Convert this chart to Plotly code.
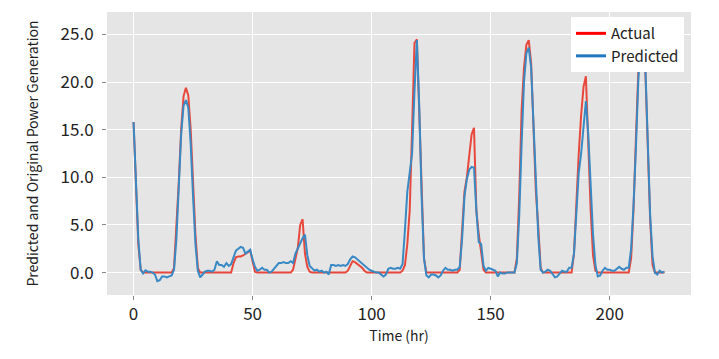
import plotly.graph_objects as go

hours = list(range(224))

actual = [
    15.8, 9.0, 3.0, 0.3, 0, 0, 0, 0, 0, 0,            # 0-9
    0, 0, 0, 0, 0, 0, 0, 0.5, 4.5, 9.5,               # 10-19
    15.0, 18.5, 19.4, 18.6, 15.0, 9.5, 4.0, 0.5, 0, 0,  # 20-29
    0, 0, 0, 0, 0, 0, 0, 0, 0, 0,                     # 30-39
    0, 0, 1.0, 1.6, 1.7, 1.7, 1.8, 2.0, 2.2, 2.3,     # 40-49
    1.2, 0.1, 0, 0, 0, 0, 0, 0, 0, 0,                 # 50-59
    0, 0, 0, 0, 0, 0, 0, 0.3, 1.3, 2.6,               # 60-69
    5.0, 5.6, 2.0, 0.6, 0.1, 0, 0, 0, 0, 0,           # 70-79
    0, 0, 0, 0, 0, 0, 0, 0, 0, 0,                     # 80-89
    0.2, 0.8, 1.2, 1.1, 0.9, 0.7, 0.5, 0.2, 0, 0,     # 90-99
    0, 0, 0, 0, 0, 0, 0, 0, 0, 0,                     # 100-109
    0, 0, 0, 0.2, 0.8, 3.0, 6.5, 15.0, 24.1, 24.5,    # 110-119
    17.0, 8.0, 1.5, 0, 0, 0, 0, 0, 0, 0,              # 120-129
    0, 0, 0, 0, 0, 0, 0, 0.3, 4.0, 8.5,               # 130-139
    10.0, 12.5, 14.5, 15.2, 6.5, 4.0, 2.0, 0.3, 0, 0,  # 140-149
    0, 0, 0, 0, 0, 0, 0, 0, 0, 0,                     # 150-159
    0, 1.5, 8.0, 17.0, 21.5, 23.9, 24.4, 22.0, 16.0, 8.5,  # 160-169
    4.8, 0.5, 0, 0, 0, 0, 0, 0, 0, 0,                 # 170-179
    0, 0, 0, 0, 0, 2.0, 7.5, 12.5, 16.5, 19.5,        # 180-189
    20.6, 13.5, 6.6, 1.8, 0.2, 0, 0, 0, 0, 0,         # 190-199
    0, 0, 0, 0, 0, 0, 0, 0, 0, 1.5,                   # 200-209
    6.6, 14.0, 21.0, 25.5, 25.9, 21.0, 13.5, 5.5, 0.8, 0,  # 210-219
    0, 0, 0, 0,                                       # 220-223
]

predicted = [
    15.8, 9.5, 3.5, 0.3, -0.1, 0.25, 0.1, 0.1, 0.0, -0.2,     # 0-9
    -0.9, -0.8, -0.4, -0.4, -0.5, -0.4, -0.3, 0.3, 3.5, 9.0,  # 10-19
    14.5, 17.5, 18.1, 17.3, 13.5, 8.0, 3.0, 0.2, -0.5, -0.2,  # 20-29
    0.1, 0.2, 0.2, 0.1, 0.3, 1.2, 0.8, 0.8, 0.6, 1.0,         # 30-39
    0.7, 0.9, 1.5, 2.3, 2.5, 2.7, 2.6, 2.0, 2.2, 2.4,         # 40-49
    1.4, 0.6, 0.2, 0.3, 0.5, 0.3, 0.3, 0.0, 0.1, 0.4,         # 50-59
    0.7, 1.0, 1.0, 1.1, 1.0, 1.0, 1.2, 1.0, 2.0, 2.6,         # 60-69
    3.0, 3.6, 4.0, 1.8, 0.7, 0.4, 0.2, 0.3, 0.1, 0.2,         # 70-79
    0.0, 0.1, -0.2, 0.8, 0.8, 0.7, 0.8, 0.7, 0.8, 0.7,        # 80-89
    0.9, 1.4, 1.7, 1.6, 1.4, 1.2, 1.0, 0.7, 0.5, 0.3,         # 90-99
    0.2, 0.1, 0.0, 0.0, -0.2, -0.4, -0.2, 0.4, 0.5, 0.4,      # 100-109
    0.4, 0.5, 0.4, 0.9, 4.5, 8.5, 10.5, 12.5, 19.0, 24.4,     # 110-119
    17.5, 8.0, 1.5, -0.3, -0.5, -0.2, -0.2, -0.3, -0.5, -0.3,  # 120-129
    0.2, 0.5, 0.3, 0.3, 0.2, 0.3, 0.3, 0.6, 3.5, 8.0,         # 130-139
    9.8, 10.8, 11.1, 11.0, 6.5, 3.2, 3.0, 0.7, 0.2, 0.5,      # 140-149
    0.4, 0.3, 0.2, -0.4, 0.0, -0.1, -0.1, 0.0, 0.0, 0.0,      # 150-159
    0.0, 1.0, 6.0, 13.5, 20.0, 23.0, 23.6, 21.5, 15.5, 8.0,   # 160-169
    3.8, 0.3, 0.0, 0.1, 0.3, 0.2, -0.2, -0.5, -0.4, -0.1,     # 170-179
    0.2, 0.1, 0.1, 0.5, 0.5, 2.0, 6.5, 10.5, 12.5, 15.5,      # 180-189
    18.0, 14.5, 8.5, 4.0, 0.8, -0.4, -0.3, 0.2, 0.5, 0.3,     # 190-199
    0.3, 0.2, 0.2, 0.4, 0.6, 0.4, 0.3, 0.5, 0.5, 2.5,         # 200-209
    7.0, 13.0, 20.0, 24.5, 25.0, 21.5, 14.0, 6.0, 1.7, 0.0,   # 210-219
    -0.2, 0.2, 0.0, 0.1,                                      # 220-223
]

x_ticks = [0, 50, 100, 150, 200]
y_ticks = [0, 5, 10, 15, 20, 25]
y_tick_labels = ["0.0", "5.0", "10.0", "15.0", "20.0", "25.0"]

FONT = "Noto Sans CJK KR"

fig = go.Figure()
fig.add_trace(go.Scatter(x=hours, y=actual, mode="lines", name="Actual",
                         line=dict(color="#E8483B", width=2), showlegend=False))
fig.add_trace(go.Scatter(x=hours, y=predicted, mode="lines", name="Predicted",
                         line=dict(color="#3889C4", width=2), showlegend=False))
# legend entries
fig.add_trace(go.Scatter(x=[None], y=[None], mode="lines", name="Actual",
                         line=dict(color="#FF0000", width=3)))
fig.add_trace(go.Scatter(x=[None], y=[None], mode="lines", name="Predicted",
                         line=dict(color="#1F77C0", width=3)))

# page body has an 8px margin, so the figure is sized/offset to compensate
fig.update_layout(
    width=711, height=351,
    margin=dict(l=99, r=28, t=4, b=64, autoexpand=False),
    paper_bgcolor="white",
    plot_bgcolor="#E5E5E5",
    font=dict(family=FONT, color="#222222", size=14),
    legend=dict(x=0.988, xanchor="right", y=0.982, yanchor="top",
                bgcolor="white", borderwidth=0,
                font=dict(family=FONT, size=15, color="#222222"),
                tracegroupgap=0),
    xaxis=dict(range=[-11.15, 234.15], tickvals=x_ticks, automargin=False,
               showgrid=True, gridcolor="white", gridwidth=1.3,
               zeroline=False, ticks="outside", ticklen=4, tickcolor="#888888",
               tickfont=dict(family=FONT, size=17, color="#222222"),
               title=dict(text="Time (hr)", font=dict(family=FONT, size=14, color="#222222"),
                          standoff=2),
               showline=False),
    yaxis=dict(range=[-2.35, 27.35], tickvals=y_ticks, ticktext=y_tick_labels, automargin=False,
               showgrid=True, gridcolor="white", gridwidth=1.3,
               zeroline=False, ticks="outside", ticklen=4, tickcolor="#888888",
               ticklabelstandoff=5,
               tickfont=dict(family=FONT, size=17, color="#222222"),
               title=dict(text="Predicted and Original Power Generation",
                          font=dict(family=FONT, size=14, color="#222222"), standoff=18),
               showline=False),
)

fig.write_html("out.html")
